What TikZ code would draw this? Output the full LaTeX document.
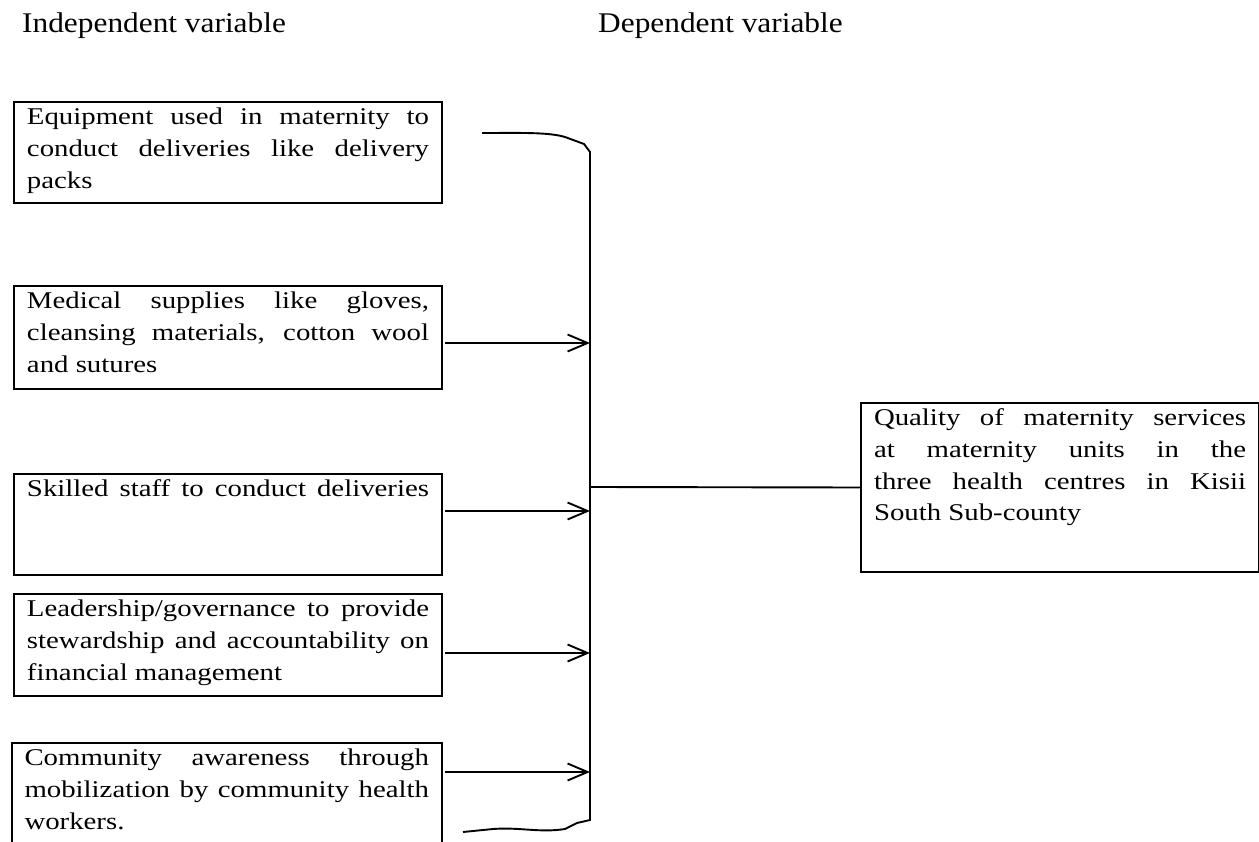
\documentclass[tikz,border=0pt]{standalone}
\usepackage{fontspec}
\setmainfont{Liberation Serif}[FakeStretch=1.2]
\newfontfamily\titlefont{Liberation Serif}[FakeStretch=1.1]
\usetikzlibrary{arrows.meta}

\tikzset{
  varbox/.style={draw, line width=2pt, anchor=north west, inner xsep=13pt, inner ysep=6pt,
    font=\fontsize{24pt}{31.7pt}\selectfont},
  title/.style={anchor=base west, inner sep=0pt, font=\titlefont\fontsize{28.5pt}{32pt}\selectfont},
  link/.style={line width=1.9pt},
  arr/.style={line width=1.9pt, shorten <=2pt, -{Straight Barb[length=20pt,width=17pt]}}
}
\newcommand{\boxpar}[3]{\parbox[t][#1][t]{#2}{#3}}

\begin{document}
\begin{tikzpicture}[x=1pt,y=-1pt]
\useasboundingbox (0,0) rectangle (1259,842);

\node[title] (indep) at (22,33) {Independent variable};
\node[title] (dep) at (598,33) {Dependent variable};

\node[varbox] (b1) at (13,101) {\boxpar{89pt}{402pt}{Equipment used in maternity to\linebreak conduct deliveries like delivery\linebreak packs}};
\node[varbox] (b2) at (13,285) {\boxpar{91pt}{402pt}{Medical supplies like gloves,\linebreak cleansing materials, cotton wool\linebreak and sutures}};
\node[varbox] (b3) at (13,473) {\boxpar{89pt}{402pt}{{\parfillskip=0pt Skilled staff to conduct deliveries\par}}};
\node[varbox] (b4) at (13,593) {\boxpar{90pt}{402pt}{Leadership/governance to provide\linebreak stewardship and accountability on\linebreak financial management}};
\node[varbox] (b5) at (10.5,742) {\boxpar{106pt}{404.5pt}{Community awareness through\linebreak mobilization by community health\linebreak workers.}};

\node[varbox] (q) at (860,402) {\boxpar{157pt}{372pt}{Quality of maternity services\linebreak at maternity units in the\linebreak three health centres in Kisii\linebreak South Sub-county}};

\coordinate (top) at (590,152);
\coordinate (bot) at (590,820);
\coordinate (hub) at (590,487);

\draw[link] (482,133) .. controls (520,133) and (548,132) .. (565,137) -- (584,144) -- (top)
  -- (bot) -- (577,823) -- (565,829) .. controls (540,833) and (520,827) .. (493,829) -- (463,832);
\draw[link] (hub) -- (q.west);

\foreach \b/\y in {b2/343,b3/511,b4/653,b5/772} {
	\coordinate (t\b) at (590,\y);
	\draw[arr] (\b.east |- t\b) -- (t\b);
}

\end{tikzpicture}
\end{document}
